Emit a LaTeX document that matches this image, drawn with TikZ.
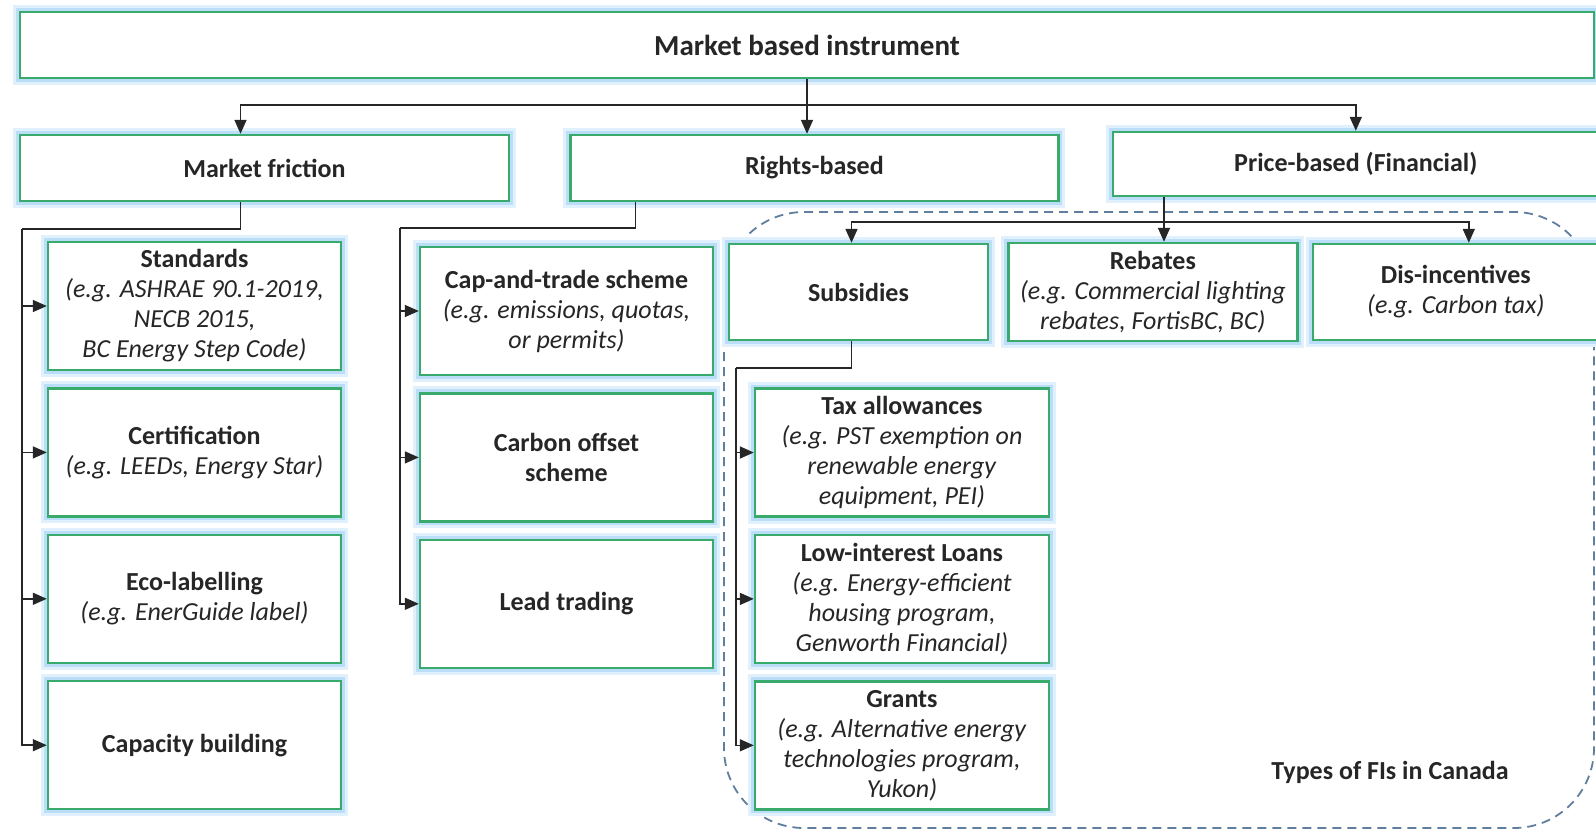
\documentclass[tikz,border=0pt]{standalone}
\usepackage{fontspec}
\setmainfont{Carlito}
\usetikzlibrary{arrows.meta, positioning}

\definecolor{boxgreen}{RGB}{56,170,108}
\definecolor{glowblue}{RGB}{186,222,248}
\definecolor{regionblue}{RGB}{96,126,158}
\definecolor{inktext}{RGB}{38,38,38}

\begin{document}
\begin{tikzpicture}[
		x=1pt, y=-1pt,
		node distance=16pt and 18pt,
		block/.style={
			draw=boxgreen,
			line width=2.4pt,
			fill=white,
			preaction={draw=glowblue!45, line width=14pt},
			preaction={draw=glowblue, line width=8pt},
			align=center,
			inner sep=3pt,
			text=inktext,
			font=\fontsize{26}{30}\selectfont
		},
		wide/.style={block, minimum width=488pt, minimum height=66pt},
		tall/.style={block, minimum width=293pt, minimum height=128pt},
		link/.style={line width=1.6pt, draw=black!85},
		arrow/.style={link, -{Triangle[length=14pt, width=12pt]}}
		]
		
		\useasboundingbox (0,0) rectangle (1596,831);
		
		% dashed region of the FI types
		\draw[regionblue, line width=1.8pt, dash pattern=on 9pt off 6pt, rounded corners=80pt]
		(724,212) rectangle (1594,828);
		
		\node[block, minimum width=1574pt, minimum height=66pt,
		font=\fontsize{29}{34}\selectfont] (mbi) at (807,45)
		{\textbf{Market based instrument}};
		
		\node[wide, minimum width=489pt] (fric) at (264.5,168) {\textbf{Market friction}};
		
		\node[wide, right=59pt of fric] (rights) {\textbf{Rights-based}};
		
		\node[wide, minimum width=486pt, minimum height=64pt, right=52pt of rights, yshift=4pt] (price)
		{\textbf{Price-based (Financial)}};
		
		% left column
		\node[tall] (stds) at (194.5,306)
		{\textbf{Standards}\\\textit{(e.g. ASHRAE 90.1-2019,}\\\textit{NECB 2015,}\\\textit{BC Energy Step Code)}};
		
		\node[tall, below=of stds] (cert)
		{\textbf{Certification}\\\textit{(e.g. LEEDs, Energy Star)}};
		
		\node[tall, below=of cert] (eco)
		{\textbf{Eco-labelling}\\\textit{(e.g. EnerGuide label)}};
		
		\node[tall, below=of eco] (capb) {\textbf{Capacity building}};
		
		% middle column
		\node[tall] (capts) at (566.5,311)
		{\textbf{Cap-and-trade scheme}\\\textit{(e.g. emissions, quotas,}\\\textit{or permits)}};
		
		\node[tall, below=of capts] (offs) {\textbf{Carbon offset}\\\textbf{scheme}};
		
		\node[tall, below=of offs] (lead) {\textbf{Lead trading}};
		
		% financial instruments
		\node[block, minimum width=259pt, minimum height=96pt] (subs) at (858.5,292)
		{\textbf{Subsidies}};
		
		\node[block, minimum width=289pt, minimum height=98pt, right=18pt of subs] (rebates)
		{\textbf{Rebates}\\\textit{(e.g. Commercial lighting}\\\textit{rebates, FortisBC, BC)}};
		
		\node[block, minimum width=286pt, minimum height=96pt, right=13pt of rebates] (dis)
		{\textbf{Dis-incentives}\\\textit{(e.g. Carbon tax)}};
		
		\node[tall, minimum width=294pt] (tax) at (902,452.5)
		{\textbf{Tax allowances}\\\textit{(e.g. PST exemption on}\\\textit{renewable energy}\\\textit{equipment, PEI)}};
		
		\node[tall, minimum width=294pt, below=of tax] (loans)
		{\textbf{Low-interest Loans}\\\textit{(e.g. Energy-efficient}\\\textit{housing program,}\\\textit{Genworth Financial)}};
		
		\node[tall, minimum width=294pt, below=of loans] (grants)
		{\textbf{Grants}\\\textit{(e.g. Alternative energy}\\\textit{technologies program,}\\\textit{Yukon)}};
		
		\node[text=inktext, font=\fontsize{26}{30}\selectfont\bfseries] (fitag) at (1390,772)
		{Types of FIs in Canada};
		
		% connectors
		\coordinate (split) at (807,105);
		\coordinate (fbus) at (22,229);
		\coordinate (rbus) at (400,228);
		\coordinate (pbus) at (1164,222);
		\coordinate (sbus) at (736,368);
		
		\draw[link] (mbi.south) -- (split);
		\draw[arrow] (split) -| ([xshift=-24pt]fric.north);
		\draw[arrow] (split) -- (split |- rights.north);
		\draw[arrow] (split) -| (price.north);
		
		\draw[link] ([xshift=-24pt]fric.south) |- (fbus);
		\foreach \n in {stds,cert,eco,capb}
		\draw[arrow] (fbus) |- (\n.west);
		
		\draw[link] ([xshift=-179pt]rights.south) |- (rbus);
		\foreach \n in {capts,offs,lead}
		\draw[arrow] (rbus) |- (\n.west);
		
		\draw[link] (pbus |- price.south) -- (pbus);
		\draw[arrow] (pbus) -| ([xshift=-7pt]subs.north);
		\draw[arrow] (pbus) -- (pbus |- rebates.north);
		\draw[arrow] (pbus) -| ([xshift=13pt]dis.north);
		
		\draw[link] ([xshift=-7pt]subs.south) |- (sbus);
		\foreach \n in {tax,loans,grants}
		\draw[arrow] (sbus) |- (\n.west);
		
\end{tikzpicture}
\end{document}
